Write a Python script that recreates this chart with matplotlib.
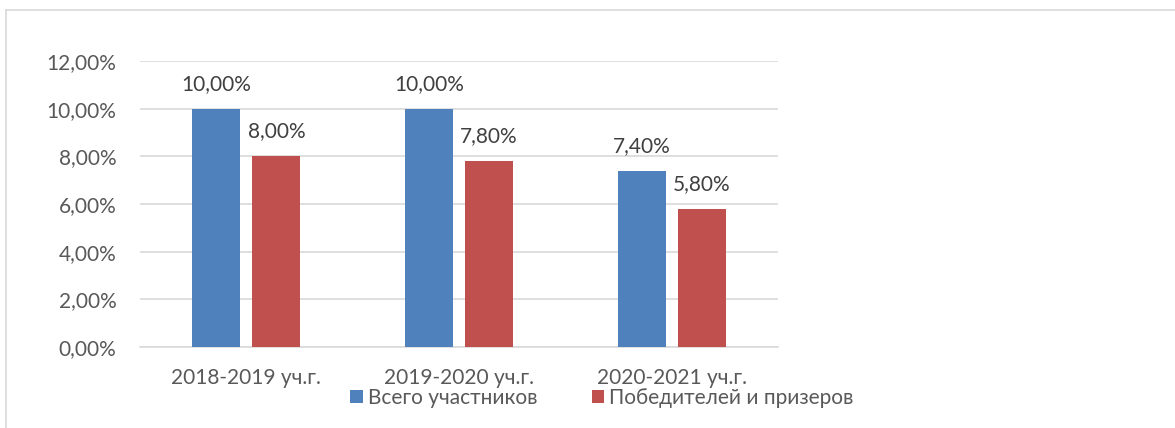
import matplotlib
matplotlib.use("Agg")
import matplotlib.pyplot as plt
import numpy as np
from matplotlib.lines import Line2D

categories = ["2018-2019 уч.г.", "2019-2020 уч.г.", "2020-2021 уч.г."]
series_names = ["Всего участников", "Победителей и призеров"]
total = [10.00, 10.00, 7.40]
winners = [8.00, 7.80, 5.80]
yticks = [0, 2, 4, 6, 8, 10, 12]

plt.rcParams['font.family'] = ['Lato', 'DejaVu Sans']
FS = 15

W, H = 1175, 428
fig = plt.figure(figsize=(W/100, H/100), dpi=100)
ax = fig.add_axes([140/W, 1-347/H, (778-140)/W, (347-61)/H])

x = np.arange(len(categories))
bw = 0.226
off = 0.141
blue = "#4f81bd"
red = "#c0504d"
b1 = ax.bar(x - off, total, bw, color=blue, label=series_names[0], zorder=3)
b2 = ax.bar(x + off, winners, bw, color=red, label=series_names[1], zorder=3)

fmt = lambda v: f"{v:.2f}%".replace(".", ",")
for bars, vals in ((b1, total), (b2, winners)):
    for r, v in zip(bars, vals):
        ax.annotate(fmt(v), (r.get_x() + r.get_width()/2, v), xytext=(0, 18),
                    textcoords="offset points", ha="center", va="center",
                    fontsize=FS, color="#404040")

ax.set_xlim(-0.5, 2.5)
ax.set_ylim(0, 12)
ax.set_yticks(yticks)
ax.set_yticklabels([fmt(t) for t in yticks], fontsize=FS, color="#595959")
ax.set_xticks(x)
ax.set_xticklabels(categories, fontsize=FS, color="#595959")
ax.tick_params(axis='both', length=0)
ax.tick_params(axis='y', pad=17)
ax.tick_params(axis='x', pad=15)
ax.grid(axis='y', color="#d9d9d9", linewidth=1.2, zorder=0)
for s in ['top', 'right', 'left']:
    ax.spines[s].set_visible(False)
ax.spines['bottom'].set_color("#d9d9d9")
ax.spines['bottom'].set_linewidth(1.2)
ax.set_facecolor("none")

leg = fig.legend(handles=[b1, b2], labels=series_names, loc='center',
                 bbox_to_anchor=(602/W, 1-398/H), ncol=2, frameon=False,
                 fontsize=FS, handlelength=0.6, handleheight=0.6,
                 handletextpad=0.25, columnspacing=2.6, borderpad=0)
for t in leg.get_texts():
    t.set_color("#595959")

# outer chart border (top and left visible)
fig.add_artist(Line2D([6/W, 6/W], [0, 1-10/H], color="#d9d9d9", linewidth=1.2,
                      transform=fig.transFigure))
fig.add_artist(Line2D([6/W, 1], [1-10/H, 1-10/H], color="#d9d9d9", linewidth=1.2,
                      transform=fig.transFigure))

fig.savefig("out.png", dpi=100, facecolor="white")
